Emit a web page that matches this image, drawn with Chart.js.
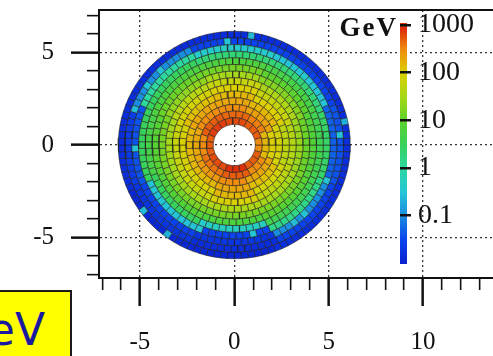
<!DOCTYPE html>
<html>
<head>
<meta charset="utf-8">
<script src="https://cdn.jsdelivr.net/npm/chart.js@4.4.1/dist/chart.umd.min.js"></script>
<style>
html,body{margin:0;padding:0;background:#fff;width:493px;height:356px;overflow:hidden}
#main{position:absolute;left:0;top:0}
#cbar{position:absolute;left:380px;top:0}
#gev{position:absolute;right:95px;top:14px;font:bold 27px/27px "Liberation Serif",serif;color:#111;letter-spacing:2px;white-space:nowrap}
#box{position:absolute;left:-60px;top:290px;width:128px;height:80px;background:#ffff00;border:2px solid #1a1a1a;overflow:hidden}
#box span{position:absolute;right:25px;top:16px;font:44px/44px "DejaVu Sans",sans-serif;color:#1a1aa0;white-space:nowrap}
</style>
</head>
<body>
<canvas id="main" width="493" height="356"></canvas>
<canvas id="cbar" width="113" height="290"></canvas>
<div id="gev">GeV</div>
<div id="box"><span>GeV</span></div>
<script>
// ================= DATA =================
// direction of each energy profile (degrees, counter-clockwise from +x)
const sectorAngles = [0, 45, 90, 135, 180, 225, 270, 315];
// cell energy (GeV) per ring, innermost ring first, read along each direction
const energyE  = [300, 150, 100, 80, 50, 40, 25, 12, 7, 4, 2.5, 0.05, 0.04, 0.015];
const energyNE = [500, 350, 220, 150, 100, 60, 35, 18, 9, 5, 2, 0.3, 0.03, 0.015];
const energyN  = [600, 450, 300, 200, 150, 100, 60, 30, 14, 6, 2, 0.4, 0.03, 0.015];
const energyNW = [700, 500, 300, 200, 130, 80, 45, 22, 12, 6, 3, 1, 0.1, 0.015];
const energyW  = [500, 300, 200, 150, 90, 60, 30, 15, 8, 5, 3, 0.04, 0.025, 0.015];
const energySW = [600, 400, 250, 150, 90, 60, 30, 15, 7, 3, 0.3, 0.03, 0.02, 0.012];
const energyS  = [800, 500, 300, 200, 150, 90, 35, 15, 6, 0.5, 0.03, 0.02, 0.015, 0.012];
const energySE = [500, 300, 200, 130, 80, 50, 30, 15, 8, 4, 1.5, 0.1, 0.03, 0.015];
// isolated cells that differ from their neighbours: [ring (1 = innermost), angle deg, GeV]
const hotCells = [
  [12, 180, 0.3], [13, 94, 0.3], [12, 95, 0.5], [14, 80, 0.25],
  [13, 135, 0.3], [13, 145, 0.3], [13, 158, 0.25], [14, 11, 0.2],
  [13, 4, 0.3], [12, 337, 0.3], [12, 316, 0.3], [12, 306, 0.25],
  [11, 282, 0.3], [14, 215, 0.25], [11, 216, 0.3], [11, 248, 0.3],
  [10, 248, 0.4], [11, 280, 0.3], [14, 233, 0.2], [12, 44, 0.4]
];
const colorbarTicks = [1000, 100, 10, 1, 0.1];
const xMajorTicks = [-5, 0, 5, 10];
const yMajorTicks = [-5, 0, 5];
const xMinorTicks = [-7, -6, -5, -4, -3, -2, -1, 0, 1, 2, 3, 4, 5, 6, 7, 8, 9, 10, 11, 12, 13];
const yMinorTicks = [-7, -6, -5, -4, -3, -2, -1, 0, 1, 2, 3, 4, 5, 6, 7];

// ================= GEOMETRY / STYLE =================
const R_IN = 1.12, R_OUT = 6.15, NRING = 14, CELL = 0.36;
const CB_MIN = 0.0095, CB_MAX = 1100;
const cmapStops = [
  [-2.0, [10, 34, 208]], [-1.5, [10, 68, 238]], [-1.0, [26, 142, 224]],
  [-0.5, [38, 198, 214]], [0.0, [44, 216, 160]], [0.5, [56, 210, 90]],
  [1.0, [94, 210, 42]], [1.5, [168, 216, 24]], [2.0, [220, 208, 0]],
  [2.5, [240, 138, 16]], [2.9, [222, 48, 12]], [3.05, [192, 16, 16]]
];
function rgbStr(c) { return 'rgb(' + c.map(Math.round).join(',') + ')'; }
function colorFor(v) {
  const l = Math.log10(v);
  if (l <= cmapStops[0][0]) return rgbStr(cmapStops[0][1]);
  for (let i = 1; i < cmapStops.length; i++) {
    if (l <= cmapStops[i][0]) {
      const [l0, c0] = cmapStops[i - 1], [l1, c1] = cmapStops[i];
      const t = (l - l0) / (l1 - l0);
      return rgbStr(c0.map((c, k) => c + (c1[k] - c) * t));
    }
  }
  return rgbStr(cmapStops[cmapStops.length - 1][1]);
}

const sectorData = [energyE, energyNE, energyN, energyNW, energyW, energySW, energyS, energySE];
const datasets = [];
const dr = (R_OUT - R_IN) / NRING;
for (let k = 0; k < NRING; k++) {
  const r0 = R_IN + k * dr, r1 = r0 + dr, rm = (r0 + r1) / 2;
  const N = Math.round(2 * Math.PI * rm / CELL);
  const hot = {};
  hotCells.forEach(([ring, ang, val]) => {
    if (ring - 1 === k) hot[Math.floor((((ang % 360) + 360) % 360) / 360 * N)] = val;
  });
  for (let j = 0; j < N; j++) {
    const a0 = j * 2 * Math.PI / N, a1 = (j + 1) * 2 * Math.PI / N;
    const amDeg = ((a0 + a1) / 2) * 180 / Math.PI;
    const s = Math.round(amDeg / 45) % 8;
    const val = (j in hot) ? hot[j] : sectorData[s][k];
    const pts = [
      {x: r0 * Math.cos(a0), y: r0 * Math.sin(a0)},
      {x: r1 * Math.cos(a0), y: r1 * Math.sin(a0)},
      {x: r1 * Math.cos(a1), y: r1 * Math.sin(a1)},
      {x: r0 * Math.cos(a1), y: r0 * Math.sin(a1)},
      {x: r0 * Math.cos(a0), y: r0 * Math.sin(a0)}
    ];
    datasets.push({
      data: pts, showLine: true, fill: 'shape', tension: 0,
      backgroundColor: colorFor(val), borderColor: 'rgba(30,30,30,0.55)',
      borderWidth: 1, pointRadius: 0
    });
  }
}

const serif = '"Liberation Serif", "Times New Roman", serif';
const isMaj = (arr, c) => c.tick && arr.includes(c.tick.value);
const noPad = s => { s.paddingTop = 0; s.paddingBottom = 0; s.paddingLeft = 0; s.paddingRight = 0; };

new Chart(document.getElementById('main'), {
  type: 'scatter',
  data: { datasets },
  options: {
    responsive: false, animation: false, events: [],
    layout: { padding: 0 },
    plugins: { legend: { display: false }, tooltip: { enabled: false } },
    scales: {
      x: {
        type: 'linear', position: 'bottom', min: -7.17, max: 13.71,
        afterBuildTicks: s => { s.ticks = xMinorTicks.map(v => ({value: v})); },
        afterFit: s => { s.height = 78; noPad(s); },
        ticks: { autoSkip: false, maxRotation: 0, padding: 21, color: '#111',
          font: { family: serif, size: 25 },
          callback: v => xMajorTicks.includes(v) ? String(v) : '' },
        grid: {
          color: c => isMaj(xMajorTicks, c) ? '#333' : 'rgba(0,0,0,0)', lineWidth: 1.3,
          tickLength: 28, tickColor: '#111',
          tickWidth: c => isMaj(xMajorTicks, c) ? 2.5 : 1.6,
          tickBorderDash: c => isMaj(xMajorTicks, c) ? [] : [11, 100],
          tickBorderDashOffset: 0
        },
        border: { display: true, color: '#111', width: 2, dash: [2, 3] }
      },
      x2: {
        type: 'linear', position: 'top', min: -7.17, max: 13.71,
        afterFit: s => { s.height = 10; noPad(s); },
        ticks: { display: false }, grid: { display: false },
        border: { display: true, color: '#111', width: 2 }
      },
      y: {
        type: 'linear', position: 'left', min: -7.19, max: 7.30,
        afterBuildTicks: s => { s.ticks = yMinorTicks.map(v => ({value: v})); },
        afterFit: s => { s.width = 99; noPad(s); },
        ticks: { autoSkip: false, padding: 17, color: '#111',
          font: { family: serif, size: 25 },
          callback: v => yMajorTicks.includes(v) ? String(v) : '' },
        grid: {
          color: c => isMaj(yMajorTicks, c) ? '#333' : 'rgba(0,0,0,0)', lineWidth: 1.3,
          tickLength: 28, tickColor: '#111',
          tickWidth: c => isMaj(yMajorTicks, c) ? 2.5 : 1.6,
          tickBorderDash: c => isMaj(yMajorTicks, c) ? [] : [11, 16],
          tickBorderDashOffset: c => isMaj(yMajorTicks, c) ? 0 : 11
        },
        border: { display: true, color: '#111', width: 2, dash: [2, 3] }
      }
    }
  }
});

// ---------- colour bar ----------
new Chart(document.getElementById('cbar'), {
  type: 'bar',
  data: {
    labels: ['GeV'],
    datasets: [{
      data: [[CB_MIN, CB_MAX]], borderWidth: 0, barPercentage: 1, categoryPercentage: 1,
      backgroundColor: (ctx) => {
        const ch = ctx.chart, ys = ch.scales.y;
        if (!ch.chartArea || !ys) return '#2cd8a0';
        const yTop = ys.getPixelForValue(CB_MAX), yBot = ys.getPixelForValue(CB_MIN);
        const g = ch.ctx.createLinearGradient(0, yBot, 0, yTop);
        cmapStops.forEach(([l, c]) => {
          const p = (ys.getPixelForValue(Math.pow(10, l)) - yBot) / (yTop - yBot);
          if (p >= 0 && p <= 1) g.addColorStop(p, rgbStr(c));
        });
        return g;
      }
    }]
  },
  options: {
    responsive: false, animation: false, events: [],
    layout: { padding: { left: 20, top: 23, bottom: 26, right: 0 } },
    plugins: { legend: { display: false }, tooltip: { enabled: false } },
    scales: {
      x: { display: false },
      y: {
        type: 'logarithmic', position: 'right', min: CB_MIN, max: CB_MAX,
        afterBuildTicks: s => { s.ticks = colorbarTicks.slice().sort((a, b) => a - b).map(v => ({value: v})); },
        afterFit: s => { s.width = 86; noPad(s); },
        ticks: { padding: 7, color: '#111', font: { family: serif, size: 28, lineHeight: 1 },
          callback: v => String(v) },
        grid: { z: 1, drawOnChartArea: true, color: '#111', lineWidth: 2.5,
          tickLength: 4, tickColor: '#111', tickWidth: 2.5 },
        border: { display: false }
      }
    }
  }
});
</script>
</body>
</html>
